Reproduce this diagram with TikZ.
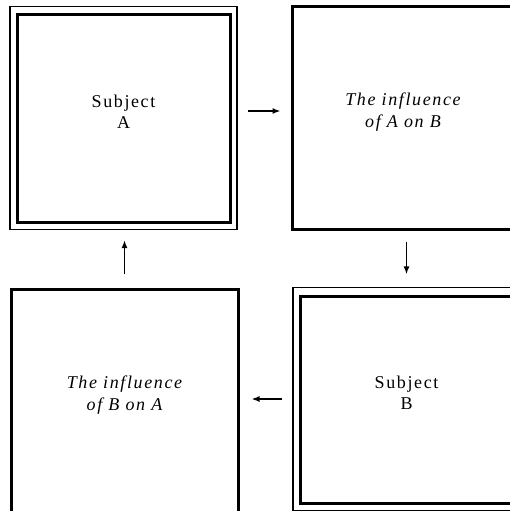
\documentclass[tikz,border=0pt]{standalone}
\usepackage{fontspec}
\setmainfont{Liberation Serif}[LetterSpace=9]
\usetikzlibrary{arrows.meta}

\begin{document}
\begin{tikzpicture}[x=1pt,y=-1pt,
  outer/.style={draw,line width=1.2pt,minimum width=227pt,minimum height=223pt,inner sep=0pt},
  inner/.style={draw,line width=3pt,minimum width=213pt,minimum height=207pt,inner sep=0pt},
  box/.style={draw,line width=3pt,minimum width=#1,minimum height=222pt,inner sep=0pt},
  label/.style={align=center,font=\fontsize{18}{21.5}\selectfont,yshift=6pt},
  ilabel/.style={label,font=\fontsize{18}{21.5}\selectfont\itshape},
  flow/.style={-{Latex[length=8pt,width=6pt]},line width=1.5pt}]
\useasboundingbox (0,0) rectangle (510,511);
% subject A, top left
\node[outer] (subA) at (123.5,118) {};
\node[inner] (subAin) at (123.5,118.5) {};
\node[label] (labA) at (subA.center) {Subject\\A};
% influence of A on B, top right
\node[box=222pt] (infAB) at (403,118) {};
\node[ilabel] (labAB) at (infAB.center) {The influence\\of A on B};
% influence of B on A, bottom left
\node[box=227pt,minimum height=224pt] (infBA) at (124.5,401) {};
\node[ilabel] (labBA) at (infBA.center) {The influence\\of B on A};
% subject B, bottom right
\node[outer] (subB) at (406.5,399) {};
\node[inner] (subBin) at (406.5,399.5) {};
\node[label] (labB) at (subB.center) {Subject\\B};
% the cycle
\draw[flow,shorten <=10pt,shorten >=10pt] ([yshift=7pt]subA.east) -- ([yshift=7pt]subA.east -| infAB.west);
\draw[flow,shorten <=11pt,shorten >=12.5pt] (subB.north |- infAB.south) -- (subB.north);
\draw[flow,shorten <=10pt,shorten >=12pt] (subB.west) -- (subB.west -| infBA.east);
\draw[flow,shorten <=14pt,shorten >=10pt] (infBA.north) -- (infBA.north |- subA.south);
\end{tikzpicture}
\end{document}
